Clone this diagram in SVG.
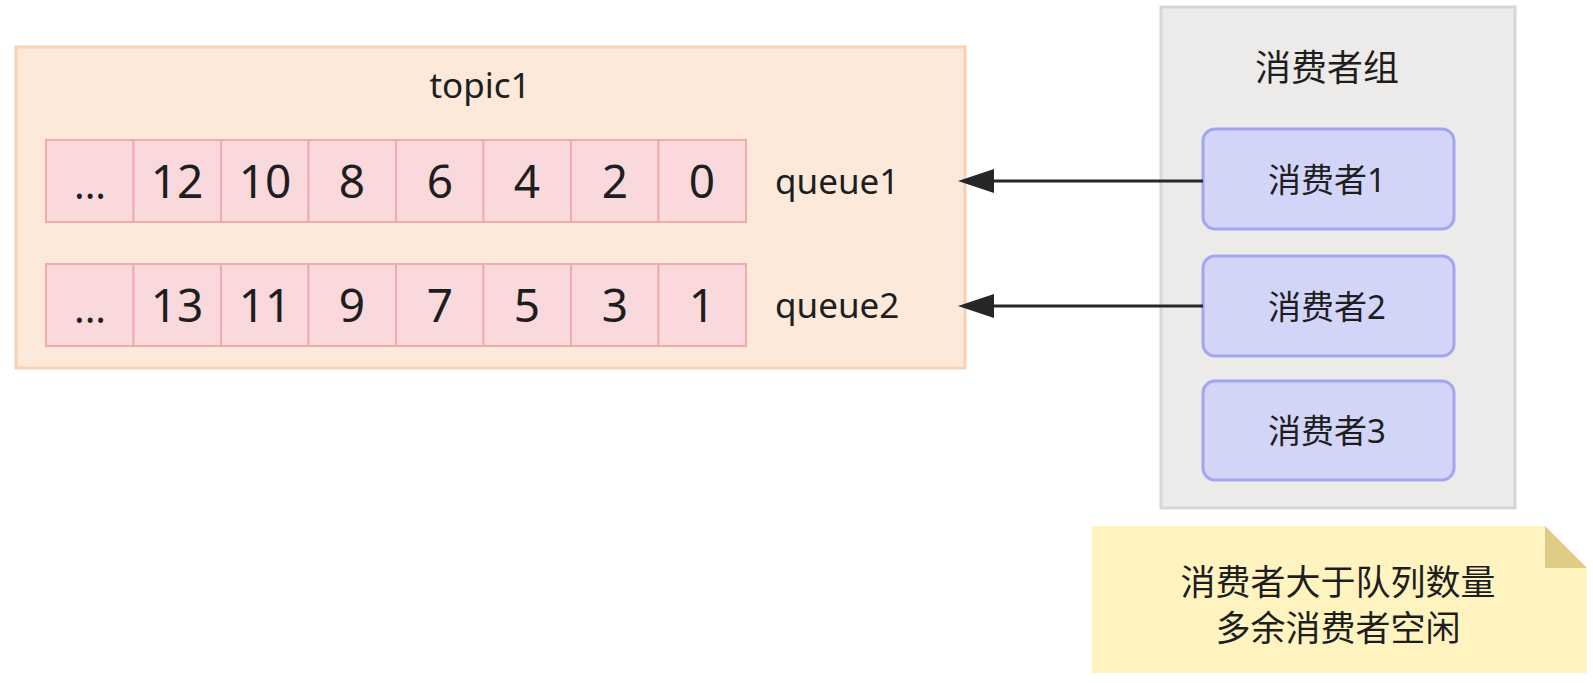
<svg xmlns="http://www.w3.org/2000/svg" width="1593" height="683" viewBox="0 0 1593 683">
<defs>
<style>
text{font-family:"Noto Sans","Noto Sans CJK SC",sans-serif;fill:#1e1e1e;dominant-baseline:central;text-anchor:middle}
.cell{fill:#f9d9db;stroke:#efacac;stroke-width:2}
.num{font-size:46px}
.dots{font-size:40px}
.lbl{font-size:35px}
.cons{fill:#d2d5f8;stroke:#a0a7ef;stroke-width:3}
.ctext{font-size:33px}
.note{font-size:35px}
.conn{stroke:#262626;stroke-width:3;fill:none}
</style>
<marker id="arr" markerUnits="userSpaceOnUse" markerWidth="36" markerHeight="24" refX="0" refY="12" orient="auto" viewBox="0 0 36 24">
<path d="M0,0 L36,12 L0,24 Z" fill="#262626"/>
</marker>
</defs>
<rect width="1593" height="683" fill="#ffffff"/>

<g id="topic1">
<rect x="16" y="47" width="949" height="321" fill="#fce9da" stroke="#f8d0b2" stroke-width="3"/>
<text class="lbl" x="480" y="84">topic1</text>
</g>

<g id="queue1">
<rect class="cell" x="46" y="140" width="87.5" height="82"/>
<rect class="cell" x="133.5" y="140" width="87.5" height="82"/>
<rect class="cell" x="221" y="140" width="87.5" height="82"/>
<rect class="cell" x="308.5" y="140" width="87.5" height="82"/>
<rect class="cell" x="396" y="140" width="87.5" height="82"/>
<rect class="cell" x="483.5" y="140" width="87.5" height="82"/>
<rect class="cell" x="571" y="140" width="87.5" height="82"/>
<rect class="cell" x="658.5" y="140" width="87.5" height="82"/>
<text class="dots" x="90" y="183">...</text>
<text class="num" x="177" y="180">12</text>
<text class="num" x="265" y="180">10</text>
<text class="num" x="352" y="180">8</text>
<text class="num" x="440" y="180">6</text>
<text class="num" x="527" y="180">4</text>
<text class="num" x="615" y="180">2</text>
<text class="num" x="702" y="180">0</text>
<text class="lbl" x="775" y="180" style="text-anchor:start">queue1</text>
</g>

<g id="queue2">
<rect class="cell" x="46" y="264" width="87.5" height="82"/>
<rect class="cell" x="133.5" y="264" width="87.5" height="82"/>
<rect class="cell" x="221" y="264" width="87.5" height="82"/>
<rect class="cell" x="308.5" y="264" width="87.5" height="82"/>
<rect class="cell" x="396" y="264" width="87.5" height="82"/>
<rect class="cell" x="483.5" y="264" width="87.5" height="82"/>
<rect class="cell" x="571" y="264" width="87.5" height="82"/>
<rect class="cell" x="658.5" y="264" width="87.5" height="82"/>
<text class="dots" x="90" y="307">...</text>
<text class="num" x="177" y="304">13</text>
<text class="num" x="265" y="304">11</text>
<text class="num" x="352" y="304">9</text>
<text class="num" x="440" y="304">7</text>
<text class="num" x="527" y="304">5</text>
<text class="num" x="615" y="304">3</text>
<text class="num" x="702" y="304">1</text>
<text class="lbl" x="775" y="304" style="text-anchor:start">queue2</text>
</g>

<g id="consumer-group">
<rect x="1161" y="7" width="354" height="501" fill="#edebea" stroke="#d9d7d6" stroke-width="3"/>
<text x="1327" y="67" style="font-size:36px">消费者组</text>
</g>

<g id="consumer1">
<rect class="cons" x="1203" y="129" width="251" height="100" rx="12"/>
<text class="ctext" x="1327" y="179">消费者1</text>
</g>
<g id="consumer2">
<rect class="cons" x="1203" y="256" width="251" height="100" rx="12"/>
<text class="ctext" x="1327" y="306">消费者2</text>
</g>
<g id="consumer3">
<rect class="cons" x="1203" y="381" width="251" height="99" rx="12"/>
<text class="ctext" x="1327" y="430">消费者3</text>
</g>

<g id="note">
<path d="M1092,526 L1545,526 L1587,568 L1587,673 L1092,673 Z" fill="#fff4bf"/>
<path d="M1545,526 L1545,568 L1587,568 Z" fill="#dfcc86"/>
<text class="note" x="1338" y="581">消费者大于队列数量</text>
<text class="note" x="1338" y="627">多余消费者空闲</text>
</g>

<g id="connectors">
<line class="conn" x1="1203" y1="181" x2="994" y2="181" marker-end="url(#arr)"/>
<line class="conn" x1="1203" y1="306" x2="994" y2="306" marker-end="url(#arr)"/>
</g>
</svg>
